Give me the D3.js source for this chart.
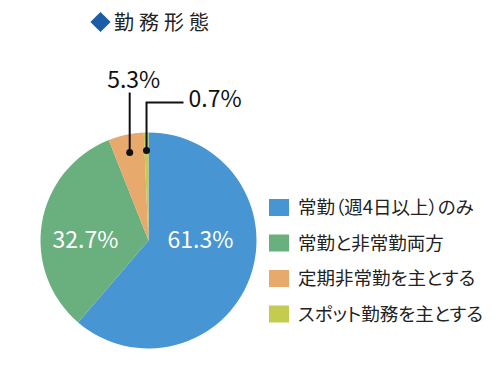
<html>
<head>
<script src="https://d3js.org/d3.v7.min.js"></script>
<style>
  body { margin: 0; background: #fff; }
  text { font-family: "Noto Sans CJK JP", "Noto Sans", sans-serif; }
  .legend text { font-feature-settings: "palt"; }
</style>
</head>
<body>
<script>
var categories = ["常勤（週4日以上）のみ", "常勤と非常勤両方", "定期非常勤を主とする", "スポット勤務を主とする"];
var values = [61.3, 32.7, 5.3, 0.7];
var labels = ["61.3%", "32.7%", "5.3%", "0.7%"];
var colors = ["#4795d2", "#6aaf7e", "#e8a96d", "#c4cc4f"];
var title = "勤務形態";

var width = 500, height = 371;
var cx = 148.5, cy = 240.5, r = 108;

var svg = d3.select("body").append("svg")
    .attr("width", width)
    .attr("height", height);

// title
svg.append("path")
    .attr("d", d3.symbol().type(d3.symbolDiamond2).size(260))
    .attr("transform", "translate(100.5,22)")
    .attr("fill", "#1a5ca8");
svg.append("text")
    .attr("x", 114).attr("y", 30)
    .attr("font-size", 20)
    .attr("letter-spacing", 5)
    .attr("fill", "#222")
    .text(title);

var pie = d3.pie().sort(null).value(function(d) { return d; });
var arcs = pie(values);
var arc = d3.arc().innerRadius(0).outerRadius(r);

var g = svg.append("g").attr("transform", "translate(" + cx + "," + cy + ")");

g.selectAll("path.slice")
    .data(arcs)
    .enter().append("path")
    .attr("class", "slice")
    .attr("d", arc)
    .attr("fill", function(d, i) { return colors[i]; });

// inside labels for the two big slices
arcs.slice(0, 2).forEach(function(d, i) {
    g.append("text")
        .attr("x", i === 0 ? 52 : -63)
        .attr("y", 7)
        .attr("text-anchor", "middle")
        .attr("font-size", 23)
        .attr("font-family", "Noto Sans, sans-serif")
        .attr("fill", "#fff")
        .text(labels[i]);
});

// callouts for the small slices
var rDot = r - 18;
function dotAt(d) {
    var a = (d.startAngle + d.endAngle) / 2;
    return [Math.sin(a) * rDot, -Math.cos(a) * rDot];
}
var p2 = dotAt(arcs[2]);
var p3 = dotAt(arcs[3]);
var line = d3.line();

g.append("path")
    .attr("d", line([[p2[0], p2[1]], [p2[0], -148]]))
    .attr("stroke", "#111").attr("stroke-width", 2).attr("fill", "none");
g.append("path")
    .attr("d", line([[p3[0], p3[1]], [p3[0], -138], [p3[0] + 37, -138]]))
    .attr("stroke", "#111").attr("stroke-width", 2).attr("fill", "none");
[p2, p3].forEach(function(p) {
    g.append("circle").attr("cx", p[0]).attr("cy", p[1]).attr("r", 3.5).attr("fill", "#111");
});
g.append("text")
    .attr("x", p2[0] + 4).attr("y", -153)
    .attr("text-anchor", "middle")
    .attr("font-size", 23)
    .attr("font-family", "Noto Sans, sans-serif")
    .attr("fill", "#111")
    .text(labels[2]);
g.append("text")
    .attr("x", p3[0] + 42).attr("y", -134)
    .attr("font-size", 23)
    .attr("font-family", "Noto Sans, sans-serif")
    .attr("fill", "#111")
    .text(labels[3]);

// legend
var legend = svg.append("g").attr("class", "legend").attr("transform", "translate(269,199)");
var rows = legend.selectAll("g.row")
    .data(categories)
    .enter().append("g")
    .attr("class", "row")
    .attr("transform", function(d, i) { return "translate(0," + (i * 35.5) + ")"; });
rows.append("rect")
    .attr("width", 20).attr("height", 17)
    .attr("fill", function(d, i) { return colors[i]; });
rows.append("text")
    .attr("x", 29).attr("y", 15)
    .attr("font-size", 18.5)
    .attr("fill", "#222")
    .text(function(d) { return d; });
</script>
</body>
</html>
